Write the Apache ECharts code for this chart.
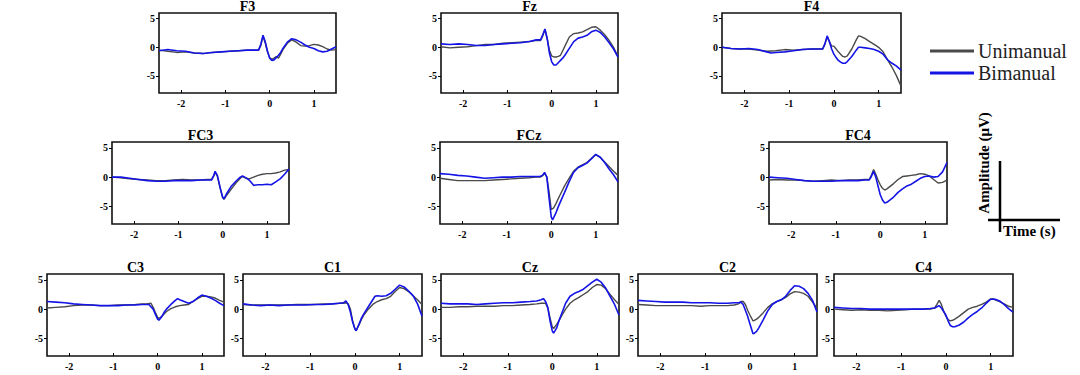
<!DOCTYPE html>
<html>
<head>
<meta charset="utf-8">
<script src="https://cdn.jsdelivr.net/npm/echarts@6/dist/echarts.min.js"></script>
<style>html,body{margin:0;padding:0;background:#fff;}#c{width:1080px;height:375px;}</style>
</head>
<body>
<div id="c"></div>
<script>
// ---- data ----
const channels = ['F3','Fz','F4','FC3','FCz','FC4','C3','C1','Cz','C2','C4'];
const seriesNames = ['Unimanual','Bimanual'];
const xTicks = [-2,-1,0,1];
const yTicks = [-5,0,5];
const xRange = [-2.5,1.5];
const yRange = [-8,6];

const F3_uni = [[-2.5,-0.5],[-2.3,-0.7],[-2.1,-0.9],[-1.9,-0.8],[-1.7,-1.0],[-1.5,-1.1],[-1.3,-0.9],[-1.1,-0.8],[-0.9,-0.7],[-0.7,-0.6],[-0.5,-0.5],[-0.35,-0.5],[-0.25,-0.5],[-0.2,0.3],[-0.15,1.9],[-0.1,0.8],[-0.05,-0.8],[0,-1.8],[0.05,-2.1],[0.1,-1.9],[0.15,-1.6],[0.2,-1.9],[0.25,-1.2],[0.3,-0.4],[0.4,0.7],[0.5,1.3],[0.6,0.9],[0.7,0.3],[0.8,0.2],[0.9,0.3],[1.0,0.5],[1.1,0.4],[1.2,0.1],[1.3,-0.3],[1.4,-0.5],[1.5,-0.4]];
const F3_bi = [[-2.5,-0.6],[-2.3,-0.4],[-2.1,-0.6],[-1.9,-0.7],[-1.7,-1.0],[-1.5,-1.1],[-1.3,-0.9],[-1.1,-0.8],[-0.9,-0.7],[-0.7,-0.6],[-0.5,-0.5],[-0.35,-0.5],[-0.25,-0.5],[-0.2,0.5],[-0.15,2.1],[-0.1,1.0],[-0.05,-0.6],[0,-1.9],[0.05,-2.3],[0.1,-2.2],[0.15,-1.8],[0.2,-1.4],[0.25,-0.9],[0.3,-0.2],[0.4,0.9],[0.5,1.5],[0.6,1.3],[0.7,0.9],[0.8,0.4],[0.9,0.0],[1.0,-0.2],[1.1,-0.6],[1.2,-0.8],[1.3,-0.7],[1.4,-0.3],[1.5,0.1]];

const Fz_uni = [[-2.5,0.1],[-2.3,-0.1],[-2.1,0.0],[-1.9,0.1],[-1.7,0.3],[-1.5,0.5],[-1.3,0.5],[-1.1,0.7],[-0.9,0.8],[-0.7,0.9],[-0.5,1.0],[-0.35,1.2],[-0.25,1.2],[-0.2,2.0],[-0.15,3.1],[-0.1,1.5],[-0.05,-0.5],[0,-1.5],[0.05,-1.7],[0.1,-1.7],[0.15,-1.6],[0.2,-1.4],[0.25,-0.6],[0.3,0.2],[0.4,1.8],[0.5,2.4],[0.6,2.5],[0.7,2.7],[0.8,3.1],[0.9,3.5],[1.0,3.6],[1.1,3.0],[1.2,2.2],[1.3,1.2],[1.4,0.0],[1.5,-1.7]];
const Fz_bi = [[-2.5,0.6],[-2.3,0.5],[-2.1,0.6],[-1.9,0.5],[-1.7,0.3],[-1.5,0.3],[-1.3,0.5],[-1.1,0.6],[-0.9,0.7],[-0.7,0.8],[-0.5,1.0],[-0.35,1.3],[-0.25,1.3],[-0.2,2.2],[-0.15,3.2],[-0.1,1.5],[-0.05,-1.0],[0,-2.5],[0.05,-3.1],[0.1,-3.1],[0.15,-2.7],[0.2,-2.3],[0.25,-1.9],[0.3,-1.4],[0.4,-0.2],[0.5,1.0],[0.6,1.6],[0.7,1.8],[0.8,2.1],[0.9,2.7],[1.0,3.0],[1.1,2.6],[1.2,1.8],[1.3,0.8],[1.4,-0.3],[1.5,-1.7]];

const F4_uni = [[-2.5,0.0],[-2.3,-0.2],[-2.1,-0.3],[-1.9,-0.3],[-1.7,-0.5],[-1.5,-0.7],[-1.3,-0.6],[-1.1,-0.4],[-0.9,-0.5],[-0.7,-0.4],[-0.5,-0.3],[-0.35,-0.3],[-0.25,-0.3],[-0.2,0.6],[-0.15,1.8],[-0.1,1.0],[-0.05,0.2],[0,0.2],[0.05,-0.3],[0.1,-0.8],[0.15,-1.2],[0.2,-1.6],[0.25,-1.7],[0.3,-1.5],[0.4,-0.3],[0.5,1.3],[0.55,2.0],[0.6,1.9],[0.7,1.5],[0.8,1.0],[0.9,0.5],[1.0,0.0],[1.1,-0.8],[1.2,-2.2],[1.3,-3.5],[1.4,-5.0],[1.5,-6.8]];
const F4_bi = [[-2.5,0.0],[-2.3,-0.2],[-2.1,-0.3],[-1.9,-0.2],[-1.7,-0.4],[-1.5,-0.8],[-1.4,-1.0],[-1.3,-0.9],[-1.1,-0.8],[-0.9,-0.6],[-0.7,-0.4],[-0.5,-0.3],[-0.35,-0.3],[-0.25,-0.3],[-0.2,0.6],[-0.15,2.0],[-0.1,1.0],[-0.05,-0.3],[0,-1.2],[0.05,-1.8],[0.1,-2.3],[0.15,-2.6],[0.2,-2.8],[0.25,-2.8],[0.3,-2.5],[0.4,-1.6],[0.5,-0.5],[0.55,0.0],[0.6,0.0],[0.7,-0.1],[0.8,-0.2],[0.9,-0.4],[1.0,-0.7],[1.1,-1.2],[1.2,-2.2],[1.3,-2.8],[1.4,-3.3],[1.5,-4.0]];

const FC3_uni = [[-2.5,0.0],[-2.3,-0.1],[-2.1,-0.3],[-1.9,-0.4],[-1.7,-0.5],[-1.5,-0.6],[-1.3,-0.6],[-1.1,-0.5],[-0.9,-0.4],[-0.7,-0.5],[-0.5,-0.5],[-0.35,-0.4],[-0.25,-0.4],[-0.2,0.2],[-0.17,0.8],[-0.12,0.2],[-0.05,-2.0],[0,-3.5],[0.03,-3.8],[0.1,-3.0],[0.2,-2.0],[0.3,-1.0],[0.4,-0.2],[0.45,0.1],[0.5,-0.1],[0.6,-0.3],[0.7,0.0],[0.8,0.3],[0.9,0.5],[1.0,0.6],[1.1,0.6],[1.2,0.7],[1.3,0.9],[1.4,1.2],[1.5,1.3]];
const FC3_bi = [[-2.5,0.0],[-2.3,0.0],[-2.1,-0.2],[-1.9,-0.4],[-1.7,-0.6],[-1.5,-0.7],[-1.3,-0.7],[-1.1,-0.6],[-0.9,-0.6],[-0.7,-0.6],[-0.5,-0.5],[-0.35,-0.5],[-0.25,-0.5],[-0.2,0.3],[-0.17,1.0],[-0.12,0.3],[-0.05,-2.0],[0,-3.4],[0.03,-3.7],[0.1,-2.7],[0.2,-1.5],[0.3,-0.7],[0.4,0.0],[0.45,0.2],[0.5,0.0],[0.6,-0.5],[0.7,-1.4],[0.8,-1.3],[0.9,-1.3],[1.0,-1.2],[1.1,-1.3],[1.2,-0.8],[1.3,-0.3],[1.4,0.5],[1.5,1.4]];

const FCz_uni = [[-2.5,-0.2],[-2.3,-0.4],[-2.1,-0.6],[-1.9,-0.6],[-1.7,-0.6],[-1.5,-0.6],[-1.3,-0.5],[-1.1,-0.4],[-0.9,-0.3],[-0.7,-0.2],[-0.5,-0.1],[-0.35,0.0],[-0.25,0.0],[-0.2,0.2],[-0.15,0.6],[-0.1,0.1],[-0.05,-2.5],[0,-5.5],[0.05,-5.3],[0.1,-4.6],[0.15,-3.8],[0.2,-3.0],[0.3,-1.5],[0.4,-0.2],[0.5,1.0],[0.6,1.7],[0.7,2.1],[0.8,2.5],[0.9,3.2],[1.0,3.8],[1.1,3.4],[1.2,2.6],[1.3,1.8],[1.4,1.0],[1.5,0.3]];
const FCz_bi = [[-2.5,0.6],[-2.3,0.5],[-2.1,0.3],[-1.9,0.2],[-1.7,0.0],[-1.5,-0.2],[-1.3,-0.1],[-1.1,0.0],[-0.9,0.0],[-0.7,0.1],[-0.5,0.1],[-0.35,0.1],[-0.25,0.1],[-0.2,0.3],[-0.15,0.8],[-0.1,0.0],[-0.05,-3.5],[0,-6.8],[0.03,-7.3],[0.1,-6.2],[0.15,-5.2],[0.2,-4.3],[0.3,-2.6],[0.4,-0.8],[0.5,0.8],[0.6,1.6],[0.7,2.0],[0.8,2.4],[0.9,3.1],[1.0,3.9],[1.1,3.4],[1.2,2.5],[1.3,1.4],[1.4,0.4],[1.5,-0.8]];

const FC4_uni = [[-2.5,-0.5],[-2.3,-0.4],[-2.1,-0.5],[-1.9,-0.5],[-1.7,-0.6],[-1.5,-0.7],[-1.3,-0.6],[-1.1,-0.5],[-0.9,-0.6],[-0.7,-0.5],[-0.5,-0.5],[-0.35,-0.4],[-0.25,-0.4],[-0.2,0.3],[-0.15,1.3],[-0.1,0.5],[-0.05,-0.5],[0,-1.3],[0.05,-1.9],[0.1,-2.2],[0.15,-2.0],[0.2,-1.7],[0.3,-1.1],[0.4,-0.4],[0.5,0.1],[0.6,0.2],[0.7,0.3],[0.8,0.4],[0.9,0.6],[1.0,0.5],[1.1,0.2],[1.2,-0.4],[1.3,-1.0],[1.4,-0.9],[1.5,-0.5]];
const FC4_bi = [[-2.5,0.0],[-2.3,-0.1],[-2.1,-0.2],[-1.9,-0.4],[-1.7,-0.6],[-1.5,-0.7],[-1.3,-0.7],[-1.1,-0.7],[-0.9,-0.6],[-0.7,-0.6],[-0.5,-0.6],[-0.35,-0.5],[-0.25,-0.5],[-0.2,0.1],[-0.15,1.0],[-0.1,0.0],[-0.05,-1.5],[0,-3.0],[0.05,-3.9],[0.1,-4.4],[0.15,-4.3],[0.2,-4.0],[0.3,-3.4],[0.4,-2.6],[0.5,-2.0],[0.6,-1.5],[0.7,-1.2],[0.8,-0.7],[0.9,-0.2],[1.0,0.1],[1.1,0.2],[1.2,0.0],[1.3,0.1],[1.4,0.9],[1.5,2.5]];

const C3_uni = [[-2.5,0.2],[-2.3,0.3],[-2.1,0.4],[-1.9,0.6],[-1.7,0.7],[-1.5,0.7],[-1.3,0.6],[-1.1,0.6],[-0.9,0.7],[-0.7,0.7],[-0.5,0.8],[-0.35,0.9],[-0.25,0.9],[-0.15,1.0],[-0.1,0.3],[-0.05,-0.6],[0,-1.4],[0.03,-1.6],[0.1,-1.2],[0.15,-0.8],[0.2,-0.4],[0.3,0.1],[0.4,0.4],[0.5,0.6],[0.6,0.7],[0.7,0.8],[0.8,1.3],[0.9,1.8],[1.0,2.2],[1.1,2.2],[1.2,2.1],[1.3,1.9],[1.4,1.5],[1.5,1.2]];
const C3_bi = [[-2.5,1.3],[-2.3,1.2],[-2.1,1.1],[-1.9,0.9],[-1.7,0.8],[-1.5,0.7],[-1.3,0.6],[-1.1,0.6],[-0.9,0.6],[-0.7,0.7],[-0.5,0.7],[-0.35,0.8],[-0.25,0.8],[-0.2,0.8],[-0.1,0.0],[-0.05,-0.9],[0,-1.7],[0.03,-1.9],[0.1,-1.2],[0.15,-0.5],[0.2,0.0],[0.3,0.8],[0.4,1.5],[0.45,1.8],[0.5,1.6],[0.6,1.3],[0.7,1.0],[0.8,1.3],[0.9,1.9],[1.0,2.4],[1.1,2.2],[1.2,1.9],[1.3,1.5],[1.4,1.0],[1.5,0.6]];

const C1_uni = [[-2.5,0.8],[-2.3,0.7],[-2.1,0.7],[-1.9,0.7],[-1.7,0.7],[-1.5,0.7],[-1.3,0.8],[-1.1,0.8],[-0.9,0.8],[-0.7,0.9],[-0.5,0.9],[-0.35,1.0],[-0.25,1.0],[-0.2,1.1],[-0.15,0.9],[-0.1,0.0],[-0.05,-2.0],[0,-3.3],[0.03,-3.6],[0.1,-2.6],[0.15,-1.7],[0.2,-1.0],[0.3,0.0],[0.4,0.8],[0.5,1.3],[0.6,1.6],[0.7,1.8],[0.8,2.2],[0.9,3.0],[1.0,3.7],[1.1,3.5],[1.2,3.0],[1.3,2.3],[1.4,1.6],[1.5,0.8]];
const C1_bi = [[-2.5,0.9],[-2.3,0.7],[-2.1,0.6],[-1.9,0.7],[-1.7,0.6],[-1.5,0.7],[-1.3,0.7],[-1.1,0.7],[-0.9,0.8],[-0.7,0.8],[-0.5,0.9],[-0.35,1.0],[-0.25,1.1],[-0.2,1.4],[-0.15,0.8],[-0.1,-0.5],[-0.05,-2.2],[0,-3.4],[0.03,-3.7],[0.1,-2.4],[0.15,-1.5],[0.2,-0.8],[0.3,0.4],[0.4,1.6],[0.45,2.2],[0.5,2.3],[0.6,2.2],[0.7,2.3],[0.8,2.7],[0.9,3.4],[1.0,4.1],[1.1,3.8],[1.2,3.1],[1.3,2.3],[1.4,0.9],[1.5,-1.2]];

const Cz_uni = [[-2.5,0.3],[-2.3,0.3],[-2.1,0.4],[-1.9,0.4],[-1.7,0.5],[-1.5,0.5],[-1.3,0.5],[-1.1,0.6],[-0.9,0.6],[-0.7,0.7],[-0.5,0.8],[-0.35,0.9],[-0.25,1.0],[-0.15,1.0],[-0.1,0.2],[-0.05,-1.5],[0,-3.0],[0.03,-3.3],[0.1,-2.6],[0.15,-2.0],[0.2,-1.3],[0.3,0.0],[0.4,1.0],[0.5,1.6],[0.6,2.0],[0.7,2.5],[0.8,3.0],[0.9,3.7],[1.0,4.2],[1.1,4.1],[1.2,3.5],[1.3,2.5],[1.4,1.6],[1.5,0.8]];
const Cz_bi = [[-2.5,1.0],[-2.3,0.9],[-2.1,0.9],[-1.9,0.9],[-1.7,0.8],[-1.5,0.9],[-1.3,1.0],[-1.1,1.1],[-0.9,1.1],[-0.7,1.2],[-0.5,1.3],[-0.35,1.4],[-0.25,1.6],[-0.2,1.8],[-0.15,1.3],[-0.1,0.3],[-0.05,-2.0],[0,-3.7],[0.03,-4.1],[0.1,-3.2],[0.15,-2.0],[0.2,-1.0],[0.3,1.0],[0.4,2.2],[0.5,2.7],[0.6,3.0],[0.7,3.4],[0.8,4.0],[0.9,4.6],[1.0,5.1],[1.1,4.6],[1.2,3.6],[1.3,2.2],[1.4,0.8],[1.5,-1.0]];

const C2_uni = [[-2.5,0.8],[-2.3,0.7],[-2.1,0.6],[-1.9,0.6],[-1.7,0.6],[-1.5,0.6],[-1.3,0.6],[-1.1,0.5],[-0.9,0.6],[-0.7,0.6],[-0.5,0.6],[-0.35,0.7],[-0.25,0.9],[-0.2,1.3],[-0.15,1.3],[-0.1,0.8],[-0.05,-0.2],[0,-1.0],[0.07,-2.0],[0.1,-1.9],[0.15,-1.7],[0.2,-1.4],[0.3,-0.6],[0.4,0.3],[0.5,0.9],[0.6,1.3],[0.7,1.6],[0.8,2.0],[0.9,2.6],[1.0,3.0],[1.1,2.9],[1.2,2.7],[1.3,2.2],[1.4,1.2],[1.5,0.2]];
const C2_bi = [[-2.5,1.5],[-2.3,1.4],[-2.1,1.3],[-1.9,1.2],[-1.7,1.2],[-1.5,1.2],[-1.3,1.1],[-1.1,1.1],[-0.9,1.1],[-0.7,1.0],[-0.5,1.0],[-0.35,1.1],[-0.25,1.1],[-0.2,1.2],[-0.15,0.8],[-0.1,-0.2],[-0.05,-1.2],[0,-2.5],[0.07,-4.2],[0.1,-4.1],[0.15,-3.8],[0.2,-3.2],[0.3,-1.8],[0.4,-0.3],[0.5,0.8],[0.6,1.3],[0.7,1.6],[0.8,2.2],[0.9,3.2],[1.0,4.0],[1.1,3.9],[1.2,3.5],[1.3,2.7],[1.4,1.5],[1.5,-0.5]];

const C4_uni = [[-2.5,0.0],[-2.3,-0.1],[-2.1,-0.2],[-1.9,-0.1],[-1.7,-0.2],[-1.5,-0.2],[-1.3,-0.3],[-1.1,-0.2],[-0.9,-0.1],[-0.7,0.0],[-0.5,0.0],[-0.35,0.0],[-0.25,0.2],[-0.2,0.8],[-0.15,1.5],[-0.1,0.8],[-0.05,-0.3],[0,-1.2],[0.05,-1.8],[0.1,-2.0],[0.15,-1.9],[0.2,-1.7],[0.3,-1.2],[0.4,-0.6],[0.5,0.0],[0.6,0.3],[0.7,0.5],[0.8,0.8],[0.9,1.2],[1.0,1.7],[1.05,1.8],[1.1,1.6],[1.2,1.3],[1.3,0.9],[1.4,0.5],[1.5,0.3]];
const C4_bi = [[-2.5,0.3],[-2.3,0.2],[-2.1,0.1],[-1.9,0.1],[-1.7,0.0],[-1.5,0.0],[-1.3,0.0],[-1.1,0.0],[-0.9,0.0],[-0.7,0.0],[-0.5,0.0],[-0.35,0.1],[-0.25,0.2],[-0.2,0.4],[-0.15,0.6],[-0.1,0.2],[-0.05,-0.4],[0,-1.0],[0.05,-2.0],[0.1,-2.8],[0.15,-3.0],[0.2,-3.0],[0.3,-2.7],[0.4,-2.2],[0.5,-1.5],[0.6,-0.9],[0.7,-0.4],[0.8,0.2],[0.9,1.0],[1.0,1.7],[1.1,1.7],[1.2,1.4],[1.3,0.8],[1.4,0.1],[1.5,-0.5]];

const uniData = [F3_uni,Fz_uni,F4_uni,FC3_uni,FCz_uni,FC4_uni,C3_uni,C1_uni,Cz_uni,C2_uni,C4_uni];
const biData  = [F3_bi,Fz_bi,F4_bi,FC3_bi,FCz_bi,FC4_bi,C3_bi,C1_bi,Cz_bi,C2_bi,C4_bi];

// ---- layout (pixels) ----
const boxes = [
  [159,13,177,80],[441,13,177,80],[722,13,179,80],
  [112,142,177,82],[440,142,178,82],[769,142,178,82],
  [47,274,177,82],[243,274,179,82],[441,274,178,82],[638,274,179,82],[834,274,179,82]
];
const FONT = '"Liberation Serif","Times New Roman",serif';
const GRAY = '#4a4a4a', BLUE = '#1414e6';

const grid = [], xAxis = [], yAxis = [], series = [], graphic = [];
boxes.forEach((b,i)=>{
  grid.push({left:b[0], top:b[1], width:b[2], height:b[3], show:true, borderColor:'#111', borderWidth:1.6, backgroundColor:'transparent'});
  xAxis.push({type:'value', gridIndex:i, min:xRange[0], max:xRange[1], position:'bottom',
    axisLine:{show:false, onZero:false}, splitLine:{show:false},
    axisTick:{show:true, inside:true, length:3, customValues:xTicks, lineStyle:{color:'#000',width:1}},
    axisLabel:{customValues:xTicks, fontFamily:FONT, fontWeight:'bold', fontSize:10, color:'#000', margin:5}});
  yAxis.push({type:'value', gridIndex:i, min:yRange[0], max:yRange[1], position:'left',
    axisLine:{show:false, onZero:false}, splitLine:{show:false},
    axisTick:{show:true, inside:false, length:3, customValues:yTicks, lineStyle:{color:'#000',width:1}},
    axisLabel:{customValues:yTicks, fontFamily:FONT, fontWeight:'bold', fontSize:10, color:'#000', margin:4}});
  series.push({name:seriesNames[0], type:'line', xAxisIndex:i, yAxisIndex:i, data:uniData[i],
    symbol:'none', smooth:false, lineStyle:{color:GRAY, width:1.4}, itemStyle:{color:GRAY}, z:2, silent:true, animation:false});
  series.push({name:seriesNames[1], type:'line', xAxisIndex:i, yAxisIndex:i, data:biData[i],
    symbol:'none', smooth:false, lineStyle:{color:BLUE, width:1.6}, itemStyle:{color:BLUE}, z:3, silent:true, animation:false});
  graphic.push({type:'text', x:b[0]+b[2]/2, y:b[1]-7,
    style:{text:channels[i], fill:'#000', font:'bold 14px '+FONT, align:'center', verticalAlign:'middle'}});
});

// scale indicator
graphic.push({type:'line', shape:{x1:1000,y1:161,x2:1000,y2:232}, style:{stroke:'#000', lineWidth:2.5}});
graphic.push({type:'line', shape:{x1:988,y1:220,x2:1060,y2:220}, style:{stroke:'#000', lineWidth:2.5}});
graphic.push({type:'text', x:984, y:163, rotation:Math.PI/2,
  style:{text:'Amplitude (\u03bcV)', fill:'#000', font:'bold 15px '+FONT, align:'center', verticalAlign:'middle'}});
graphic.push({type:'text', x:1003, y:231,
  style:{text:'Time (s)', fill:'#000', font:'bold 15px '+FONT, align:'left', verticalAlign:'middle'}});

const chart = echarts.init(document.getElementById('c'), null, {renderer:'svg'});
chart.setOption({
  animation:false,
  backgroundColor:'#fff',
  grid, xAxis, yAxis, series, graphic,
  legend:{data:[{name:seriesNames[0], itemStyle:{color:GRAY}},{name:seriesNames[1], itemStyle:{color:BLUE}}],
    orient:'vertical', left:925, top:36, icon:'rect', itemWidth:44, itemHeight:3, itemGap:2, padding:5,
    selectedMode:false,
    textStyle:{fontFamily:FONT, fontSize:20, color:'#222', padding:[0,0,0,-1]}}
});
</script>
</body>
</html>
